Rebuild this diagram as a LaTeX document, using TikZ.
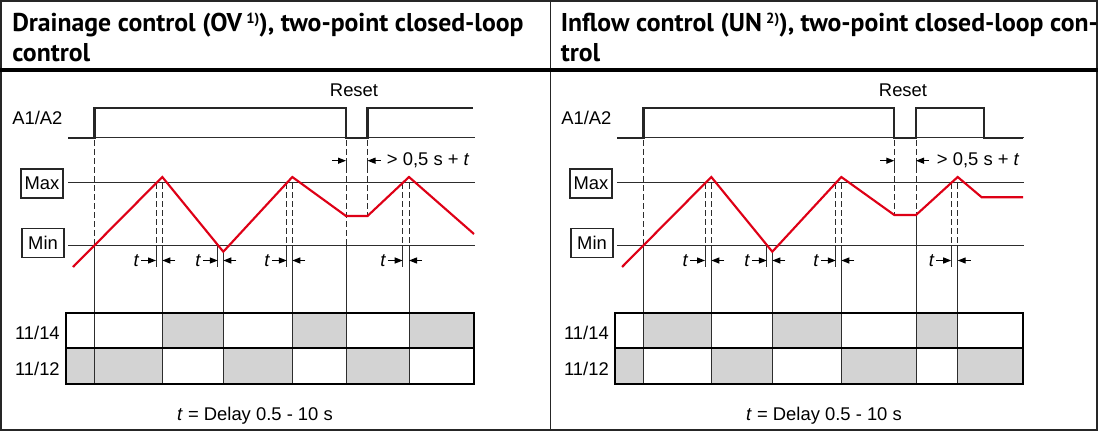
\documentclass[tikz,border=0pt]{standalone}
\usepackage{fontspec}
\setmainfont{Liberation Sans}
\newfontfamily\headfont{PT Sans}
\usetikzlibrary{arrows.meta}
\definecolor{sred}{RGB}{222,0,22}
\definecolor{ln}{RGB}{45,45,45}
\definecolor{cellgray}{RGB}{211,211,211}
\tikzset{
 thinln/.style={draw=ln, line width=0.75pt},
 dashln/.style={draw=ln, line width=0.75pt, dash pattern=on 4.5pt off 2.25pt},
 sig/.style={draw=black!85, line width=1.6pt, line join=miter},
 redln/.style={draw=sred, line width=1.6pt, line join=miter},
 arr/.style={draw=black, line width=0.9pt, -{Triangle[length=6pt,width=4.5pt]}},
 txt/.style={font=\fontsize{13.8}{16}\selectfont, inner sep=0pt},
 tlbl/.style={font=\fontsize{13.8}{16}\selectfont\itshape, inner sep=0pt, anchor=base east},
 head/.style={font=\headfont\bfseries\fontsize{19.3}{22}\selectfont, inner sep=0pt, anchor=base west},
 levelbox/.style={draw=black!85, line width=1.1pt, minimum width=31.5pt, minimum height=21.75pt, inner sep=0pt, font=\fontsize{13.8}{16}\selectfont},
 frameln/.style={draw=black!85, line width=0.8pt},
 tableframe/.style={draw=black, line width=1.5pt},
}
% peak marker: #1 threshold crossing, #2 reversal, #3 name
\newcommand\pmark[3]{%
 \draw[dashln] (#1,183) -- (#1,245);
 \draw[thinln] (#1,245) -- (#1,266.7);
 \draw[dashln] (#2,183) -- (#2,245);
 \draw[thinln] (#2,245) -- (#2,384);
 \draw[arr] ({#1-15},260.5) -- (#1,260.5);
 \draw[arr] ({#2+13},260.5) -- (#2,260.5);
 \node[tlbl] (#3) at ({#1-17},266) {t};
}
% trough marker
\newcommand\tmarkr[3]{%
 \draw[thinln] (#1,245) -- (#1,266.7);
 \draw[thinln] (#2,251.7) -- (#2,384);
 \draw[arr] ({#1-15},260.5) -- (#1,260.5);
 \draw[arr] ({#2+13},260.5) -- (#2,260.5);
 \node[tlbl] (#3) at ({#1-17},266) {t};
}
% common parts of a panel, #1 = name prefix
\newcommand\panelcommon[1]{%
 \node[txt, anchor=base west] (#1a) at (12,125) {A1/A2};
 \draw[thinln] (68,137.7) -- (475,137.7);
 \draw[thinln] (68,182.7) -- (475,182.7);
 \draw[thinln] (68,245) -- (475,245);
 \node[levelbox] (#1max) at (42,183.5) {Max};
 \node[levelbox] (#1min) at (43,243) {Min};
 \node[txt, anchor=base] (#1reset) at (354,97) {Reset};
 \draw[dashln] (94.5,140) -- (94.5,245);
 \draw[thinln] (94.5,245) -- (94.5,384);
 \node[txt, anchor=base east] (#1r14) at (60,339.5) {11/14};
 \node[txt, anchor=base east] (#1r12) at (60,375) {11/12};
}
\begin{document}
\begin{tikzpicture}[x=0.75pt,y=-0.75pt]
\useasboundingbox (0,0) rectangle (1098,431);
% outer frame
\draw[frameln] (1,1) rectangle (1097,430);
\draw[frameln] (550.5,1) -- (550.5,430);
\draw[draw=black, line width=2.4pt] (0,70) -- (1098,70);
% headings
\node[head] (h1) at (12,31.7) {Drainage control (OV\,{\fontsize{11}{12}\selectfont\raisebox{0.55em}{1)}}), two-point closed-loop};
\node[head] (h1b) at (12,61.7) {control};
\node[head] (h2) at (560.5,31.7) {Inflow control (UN\,{\fontsize{11}{12}\selectfont\raisebox{0.55em}{2)}}), two-point closed-loop con-};
\node[head] (h2b) at (560.5,61.7) {trol};

% ================= LEFT PANEL =================
\begin{scope}
 \fill[cellgray] (162.3,312.6) rectangle (223.3,347.7);
 \fill[cellgray] (292.3,312.6) rectangle (346,347.7);
 \fill[cellgray] (409,312.6) rectangle (474,347.7);
 \fill[cellgray] (65.6,347.7) rectangle (162.3,384);
 \fill[cellgray] (223.3,347.7) rectangle (292.3,384);
 \fill[cellgray] (346,347.7) rectangle (409,384);
 \panelcommon{L}
 \draw[sig] (68,137.7) -- (94.5,137.7) -- (94.5,108) -- (346,108) -- (346,137.7) -- (367.5,137.7) -- (367.5,108) -- (473,108);
 \pmark{156}{162.3}{Lt1}
 \tmarkr{217.8}{223.3}{Lt2}
 \pmark{286.8}{292.3}{Lt3}
 \pmark{402.7}{409}{Lt4}
 \draw[dashln] (346,140) -- (346,245);
 \draw[thinln] (346,245) -- (346,384);
 \draw[thinln] (346,158) -- (346,173);
 \draw[dashln] (367.5,140) -- (367.5,216);
 \draw[thinln] (367.5,158) -- (367.5,173);
 \draw[arr] (332,160.7) -- (346,160.7);
 \draw[arr] (380.5,160.7) -- (367.5,160.7);
 \node[txt, anchor=base west] (Ldelay) at (386.7,166) {> 0,5 s + \textit{t}};
 \draw[redln] (73,267) -- (162.3,177) -- (223.3,251.7) -- (292.3,177) -- (346,216) -- (367.5,216) -- (409,177) -- (474,234);
 \draw[draw=black, line width=1.2pt] (65.6,347.7) -- (474,347.7);
 \draw[tableframe] (65.6,312.6) rectangle (474,384);
 \node[txt, anchor=base] (Lcap) at (255,420.5) {\textit{t} = Delay 0.5 - 10 s};
\end{scope}

% ================= RIGHT PANEL =================
\begin{scope}[shift={(549,0)}]
 \fill[cellgray] (94.5,312.6) rectangle (162.3,347.7);
 \fill[cellgray] (223.3,312.6) rectangle (292.3,347.7);
 \fill[cellgray] (367,312.6) rectangle (408.7,347.7);
 \fill[cellgray] (65.6,347.7) rectangle (94.5,384);
 \fill[cellgray] (162.3,347.7) rectangle (223.3,384);
 \fill[cellgray] (292.3,347.7) rectangle (367,384);
 \fill[cellgray] (408.7,347.7) rectangle (474,384);
 \panelcommon{R}
 \draw[sig] (68,137.7) -- (94.5,137.7) -- (94.5,108) -- (345.3,108) -- (345.3,137.7) -- (367,137.7) -- (367,108) -- (435.3,108) -- (435.3,137.7) -- (474,137.7);
 \pmark{156}{162.3}{Rt1}
 \tmarkr{217.8}{223.3}{Rt2}
 \pmark{286.8}{292.3}{Rt3}
 \pmark{402.2}{408.7}{Rt4}
 \draw[dashln] (345.3,140) -- (345.3,215);
 \draw[thinln] (345.3,158) -- (345.3,173);
 \draw[dashln] (367,140) -- (367,215);
 \draw[thinln] (367,215) -- (367,384);
 \draw[thinln] (367,158) -- (367,173);
 \draw[arr] (331,160.7) -- (345.3,160.7);
 \draw[arr] (380,160.7) -- (367,160.7);
 \node[txt, anchor=base west] (Rdelay) at (387.7,166) {> 0,5 s + \textit{t}};
 \draw[redln] (73,267) -- (162.3,177) -- (223.3,251.7) -- (292.3,177) -- (345.3,215) -- (367,215) -- (408.7,177) -- (432.7,197.3) -- (474,197.3);
 \draw[draw=black, line width=1.2pt] (65.6,347.7) -- (474,347.7);
 \draw[tableframe] (65.6,312.6) rectangle (474,384);
 \node[txt, anchor=base] (Rcap) at (275,420.5) {\textit{t} = Delay 0.5 - 10 s};
\end{scope}
\end{tikzpicture}
\end{document}
